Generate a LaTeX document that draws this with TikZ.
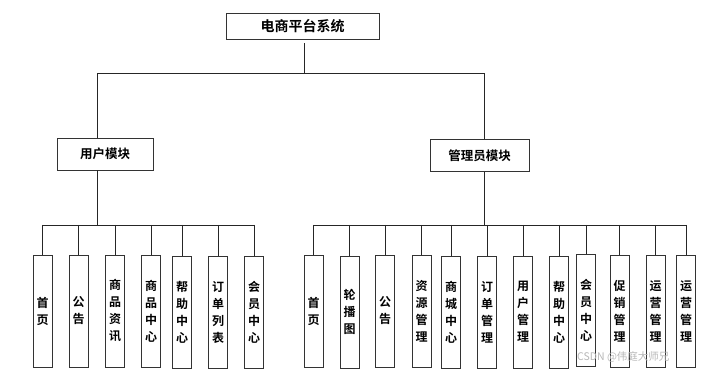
\documentclass[tikz,border=0pt]{standalone}
\usepackage{fontspec}
\newfontfamily\cjk{Noto Sans CJK SC}
\newfontfamily\cjkb{Noto Sans CJK SC Bold}
\begin{document}
\begin{tikzpicture}[x=1pt,y=-1pt,
  line/.style={draw=black!85,line width=0.8pt},
  boxs/.style={draw=black!80,line width=0.8pt,fill=white,inner sep=0pt},
  topbox/.style={boxs,minimum width=153pt,minimum height=26pt,font={\cjkb\fontsize{14}{16}\selectfont}},
  modbox/.style={boxs,minimum height=32pt,font={\cjkb\fontsize{12.5}{14}\selectfont}},
  leaf/.style={boxs,minimum width=19pt,minimum height=112pt,align=center,font={\cjkb\fontsize{12}{17}\selectfont}},
  wm/.style={text=black!28,font={\cjk\fontsize{10.5}{12}\selectfont},inner sep=0pt,anchor=west}]
\useasboundingbox (0,0) rectangle (702,371);
\fill[white] (0,0) rectangle (702,371);
\node[topbox] (t) at (302.5,26) {电商平台系统};
\node[modbox,minimum width=96pt] (um) at (105,154) {用户模块};
\node[modbox,minimum width=99pt] (am) at (479.5,155.5) {管理员模块};
% user leaves
\node[leaf] (l1) at (42.5,311) {首\\页};
\node[leaf] (l2) at (78.5,311) {公\\告};
\node[leaf] (l3) at (115,311) {商\\品\\资\\讯};
\node[leaf] (l4) at (151,311) {商\\品\\中\\心};
\node[leaf] (l5) at (182,312) {帮\\助\\中\\心};
\node[leaf] (l6) at (218,312) {订\\单\\列\\表};
\node[leaf] (l7) at (254,312) {会\\员\\中\\心};
% admin leaves
\node[leaf] (r1) at (313.5,311) {首\\页};
\node[leaf] (r2) at (349.5,312) {轮\\播\\图};
\node[leaf] (r3) at (385,311) {公\\告};
\node[leaf] (r4) at (421.5,311) {资\\源\\管\\理};
\node[leaf] (r5) at (451,312) {商\\城\\中\\心};
\node[leaf] (r6) at (487,312) {订\\单\\管\\理};
\node[leaf] (r7) at (523,312) {用\\户\\管\\理};
\node[leaf] (r8) at (559,312) {帮\\助\\中\\心};
\node[leaf] (r9) at (586,310) {会\\员\\中\\心};
\node[leaf] (r10) at (619.5,311) {促\\销\\管\\理};
\node[leaf] (r11) at (655.5,311) {运\\营\\管\\理};
\node[leaf] (r12) at (686,311) {运\\营\\管\\理};
% junctions
\coordinate (j0) at (304,73);
\coordinate (lb) at (97,225);
\coordinate (rb) at (484,225);
% top level
\draw[line,shorten <=4pt] (j0 |- t.south) -- (j0);
\draw[line] (lb |- um.north) -- (lb |- j0) -- (rb |- j0) -- (rb |- am.north);
% user bus
\draw[line] (lb |- um.south) -- (lb);
\draw[line] (l1.north |- lb) -- (l7.north |- lb);
\foreach \i in {1,...,7} \draw[line] (l\i.north |- lb) -- (l\i.north);
% admin bus
\draw[line] (rb |- am.south) -- (rb);
\draw[line] (r1.north |- rb) -- (r12.north |- rb);
\foreach \i in {1,...,12} \draw[line] (r\i.north |- rb) -- (r\i.north);
\node[wm] (w) at (577,357) {CSDN @伟庭大师兄};
\end{tikzpicture}
\end{document}
